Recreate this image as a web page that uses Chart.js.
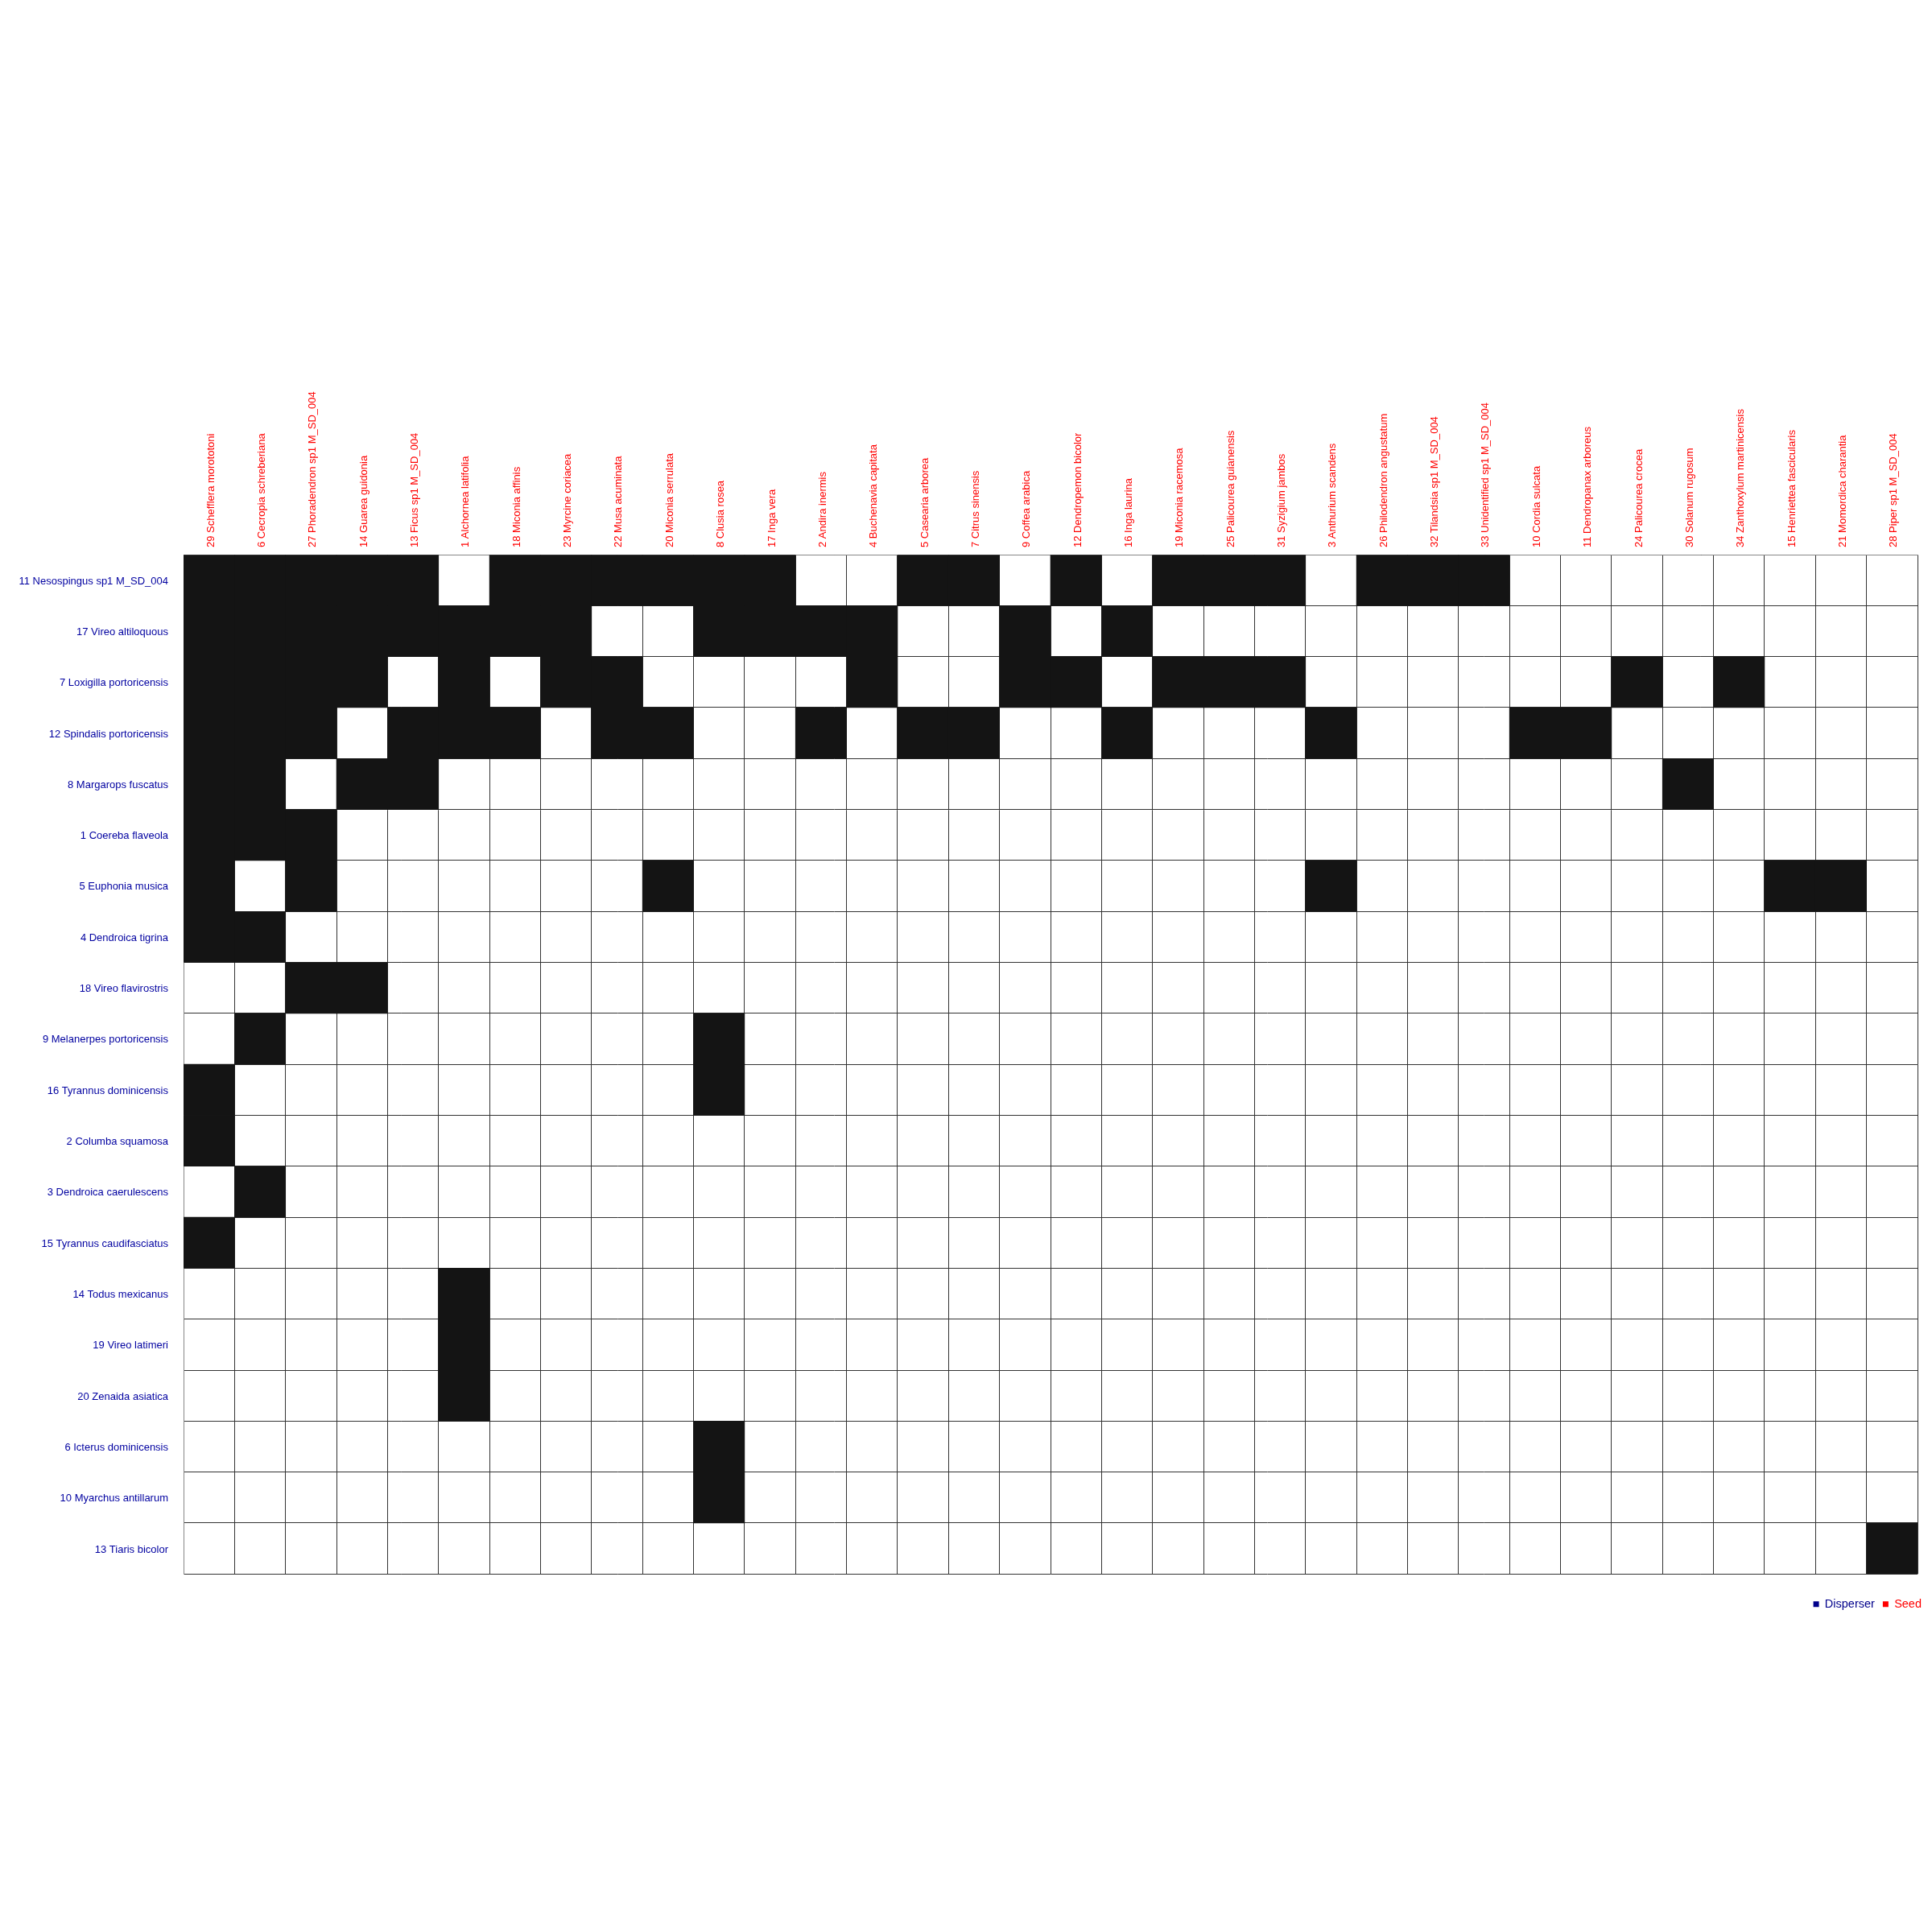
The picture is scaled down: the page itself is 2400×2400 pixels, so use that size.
<!DOCTYPE html>
<html><head><meta charset="utf-8">
<script src="https://cdn.jsdelivr.net/npm/chart.js@4"></script>
<style>html,body{margin:0;padding:0;background:#fff}canvas{display:block}</style>
</head><body>
<canvas id="c" width="2400" height="2400"></canvas>
<script>
const plants = [
  "29 Schefflera morototoni", "6 Cecropia schreberiana", "27 Phoradendron sp1 M_SD_004",
  "14 Guarea guidonia", "13 Ficus sp1 M_SD_004", "1 Alchornea latifolia", "18 Miconia affinis",
  "23 Myrcine coriacea", "22 Musa acuminata", "20 Miconia serrulata", "8 Clusia rosea",
  "17 Inga vera", "2 Andira inermis", "4 Buchenavia capitata", "5 Casearia arborea",
  "7 Citrus sinensis", "9 Coffea arabica", "12 Dendropemon bicolor", "16 Inga laurina",
  "19 Miconia racemosa", "25 Palicourea guianensis", "31 Syzigium jambos", "3 Anthurium scandens",
  "26 Philodendron angustatum", "32 Tilandsia sp1 M_SD_004", "33 Unidentified sp1 M_SD_004",
  "10 Cordia sulcata", "11 Dendropanax arboreus", "24 Palicourea crocea", "30 Solanum rugosum",
  "34 Zanthoxylum martinicensis", "15 Henriettea fascicularis", "21 Momordica charantia",
  "28 Piper sp1 M_SD_004"
];
const birds = [
  "11 Nesospingus sp1 M_SD_004", "17 Vireo altiloquous", "7 Loxigilla portoricensis",
  "12 Spindalis portoricensis", "8 Margarops fuscatus", "1 Coereba flaveola", "5 Euphonia musica",
  "4 Dendroica tigrina", "18 Vireo flavirostris", "9 Melanerpes portoricensis",
  "16 Tyrannus dominicensis", "2 Columba squamosa", "3 Dendroica caerulescens",
  "15 Tyrannus caudifasciatus", "14 Todus mexicanus", "19 Vireo latimeri", "20 Zenaida asiatica",
  "6 Icterus dominicensis", "10 Myarchus antillarum", "13 Tiaris bicolor"
];
// one string per bird row, one digit per plant column (1 = interaction)
const links = [
  "11111 01111 11001 10101 11011 10000 0000",
  "11111 11100 11110 01010 00000 00000 0000",
  "11110 10110 00010 01101 11000 00010 1000",
  "11101 11011 00101 10010 00100 01100 0000",
  "11011 00000 00000 00000 00000 00001 0000",
  "11100 00000 00000 00000 00000 00000 0000",
  "10100 00001 00000 00000 00100 00000 0110",
  "11000 00000 00000 00000 00000 00000 0000",
  "00110 00000 00000 00000 00000 00000 0000",
  "01000 00000 10000 00000 00000 00000 0000",
  "10000 00000 10000 00000 00000 00000 0000",
  "10000 00000 00000 00000 00000 00000 0000",
  "01000 00000 00000 00000 00000 00000 0000",
  "10000 00000 00000 00000 00000 00000 0000",
  "00000 10000 00000 00000 00000 00000 0000",
  "00000 10000 00000 00000 00000 00000 0000",
  "00000 10000 00000 00000 00000 00000 0000",
  "00000 00000 10000 00000 00000 00000 0000",
  "00000 00000 10000 00000 00000 00000 0000",
  "00000 00000 00000 00000 00000 00000 0001"
];
const legendNames = ["Disperser", "Seed"];
const legendColors = ["#00008b", "#ff0000"];

const FONT = '"Liberation Sans", Arial, Helvetica, sans-serif';
const CELL = '#141414';

const datasets = birds.map((bird, r) => ({
  label: bird,
  data: links[r].replace(/ /g, '').split('').map(ch => ch === '1' ? [r, r + 1] : null),
  backgroundColor: CELL,
  borderWidth: 0,
  grouped: false,
  barPercentage: 1,
  categoryPercentage: 1
}));

new Chart(document.getElementById('c'), {
  type: 'bar',
  data: { labels: plants, datasets },
  options: {
    responsive: false,
    animation: false,
    devicePixelRatio: 1,
    layout: { padding: { left: 0, right: 3, top: 0, bottom: 390 } },
    plugins: {
      tooltip: { enabled: false },
      legend: {
        position: 'bottom',
        align: 'end',
        onClick: null,
        title: { display: true, text: '', padding: { top: 19, bottom: 0 }, font: { size: 1 } },
        labels: {
          boxWidth: 7,
          boxHeight: 7,
          padding: 10,
          font: { family: FONT, size: 14.5 },
          generateLabels: () => legendNames.map((t, i) => ({
            text: t,
            fillStyle: legendColors[i],
            strokeStyle: legendColors[i],
            lineWidth: 0,
            fontColor: legendColors[i],
            hidden: false,
            datasetIndex: i
          }))
        }
      }
    },
    scales: {
      x: {
        position: 'top',
        offset: true,
        grid: { offset: true, color: '#333', lineWidth: 1, drawTicks: false },
        border: { color: '#888', width: 1 },
        ticks: {
          autoSkip: false, minRotation: 90, maxRotation: 90, padding: 9, labelOffset: 18,
          color: '#ff0000', font: { family: FONT, size: 13 }
        },
        afterFit: s => { s.height = 689; }
      },
      y: {
        min: 0, max: 20, reverse: true,
        grid: { color: '#333', lineWidth: 1, drawTicks: false },
        border: { color: '#888', width: 1 },
        ticks: {
          stepSize: 1, autoSkip: false, padding: 19, labelOffset: 33,
          color: '#0000a0', font: { family: FONT, size: 13 },
          callback: v => birds[v] !== undefined ? birds[v] : ''
        },
        afterFit: s => { s.width = 228; }
      },
      yR: {
        type: 'linear',
        position: 'right',
        grid: { display: false, drawTicks: false },
        border: { display: false },
        ticks: { display: false },
        afterFit: s => { s.width = 15; }
      }
    }
  }
});
</script>
</body></html>
